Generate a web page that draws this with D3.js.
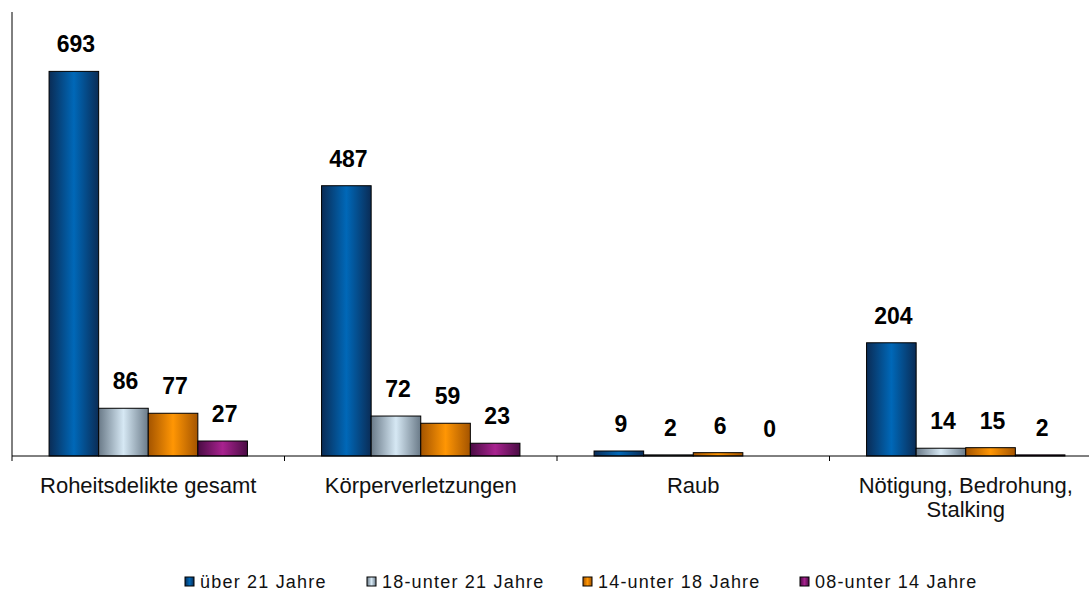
<!DOCTYPE html>
<html>
<head>
<meta charset="utf-8">
<script src="https://cdn.jsdelivr.net/npm/d3@7"></script>
<style>
  body { margin: 0; background: #fff; }
  text { font-family: "Liberation Sans", Arial, sans-serif; }
</style>
</head>
<body>
<div id="chart"></div>
<script>
// data
const categories = ["Roheitsdelikte gesamt", "Körperverletzungen", "Raub", "Nötigung, Bedrohung, Stalking"];
const seriesNames = ["über 21 Jahre", "18-unter 21 Jahre", "14-unter 18 Jahre", "08-unter 14 Jahre"];
const ueber21 = [693, 487, 9, 204];
const von18bis21 = [86, 72, 2, 14];
const von14bis18 = [77, 59, 6, 15];
const von08bis14 = [27, 23, 0, 2];
const seriesValues = [ueber21, von18bis21, von14bis18, von08bis14];

const width = 1089, height = 592;
const colors = [
  { edge: "#0a2c56", mid: "#0068b8" },
  { edge: "#6a7a88", mid: "#d6e8f4" },
  { edge: "#a45400", mid: "#ff9604" },
  { edge: "#4a0c44", mid: "#a8228f" }
];

const svg = d3.select("#chart").append("svg")
  .attr("width", width)
  .attr("height", height);

// cylinder-like gradients
const defs = svg.append("defs");
colors.forEach((c, i) => {
  const g = defs.append("linearGradient").attr("id", "grad" + i)
    .attr("x1", "0%").attr("x2", "100%").attr("y1", "0%").attr("y2", "0%");
  g.append("stop").attr("offset", "0%").attr("stop-color", c.edge);
  g.append("stop").attr("offset", "50%").attr("stop-color", c.mid);
  g.append("stop").attr("offset", "100%").attr("stop-color", c.edge);
});

const x0 = d3.scaleBand().domain(categories).range([12, 1102]).paddingInner(0).paddingOuter(0);
const inner = 0.136;
const x1 = d3.scaleBand().domain(d3.range(4))
  .range([x0.bandwidth() * inner, x0.bandwidth() * (1 - inner)]);
const y = d3.scaleLinear().domain([0, 800]).range([456, 12]);

// bars
const groups = svg.selectAll("g.cat")
  .data(categories)
  .join("g")
  .attr("class", "cat")
  .attr("transform", d => `translate(${x0(d)},0)`);

groups.selectAll("rect")
  .data((d, ci) => seriesValues.map((s, si) => ({ si, v: s[ci] })))
  .join("rect")
  .attr("x", d => x1(d.si))
  .attr("y", d => y(d.v))
  .attr("width", x1.bandwidth())
  .attr("height", d => y(0) - y(d.v))
  .attr("fill", d => `url(#grad${d.si})`)
  .attr("stroke", "#000")
  .attr("stroke-width", 1);

// value labels
groups.selectAll("text.val")
  .data((d, ci) => seriesValues.map((s, si) => ({ si, v: s[ci] })))
  .join("text")
  .attr("class", "val")
  .attr("x", d => x1(d.si) + x1.bandwidth() / 2 + 2)
  .attr("y", d => y(d.v) - 19)
  .attr("text-anchor", "middle")
  .attr("font-size", 23)
  .attr("font-weight", "bold")
  .text(d => d.v);

// axes
svg.append("line").attr("x1", 12).attr("x2", 12).attr("y1", 12).attr("y2", 456)
  .attr("stroke", "#000");
svg.append("line").attr("x1", 12).attr("x2", width).attr("y1", 456).attr("y2", 456)
  .attr("stroke", "#000");
const tickXs = categories.map(c => x0(c)).concat([x0(categories[3]) + x0.bandwidth()]);
svg.selectAll("line.tick")
  .data(tickXs)
  .join("line")
  .attr("class", "tick")
  .attr("x1", d => d).attr("x2", d => d)
  .attr("y1", 456).attr("y2", 461)
  .attr("stroke", "#000");

// category labels
const catLabels = svg.selectAll("text.cat")
  .data(categories)
  .join("text")
  .attr("class", "cat")
  .attr("text-anchor", "middle")
  .attr("font-size", 22)
  .attr("fill", "#111");
catLabels.each(function(d) {
  const t = d3.select(this);
  const cx = x0(d) + x0.bandwidth() / 2;
  const lines = d === "Nötigung, Bedrohung, Stalking" ? ["Nötigung, Bedrohung,", "Stalking"] : [d];
  lines.forEach((l, i) => {
    t.append("tspan").attr("x", cx).attr("y", 493 + i * 24).text(l);
  });
});

// legend
const legendX = [185, 367, 583, 800];
const legend = svg.selectAll("g.leg")
  .data(seriesNames)
  .join("g")
  .attr("class", "leg")
  .attr("transform", (d, i) => `translate(${legendX[i]},577)`);
legend.append("rect")
  .attr("width", 9).attr("height", 9)
  .attr("fill", (d, i) => `url(#grad${i})`)
  .attr("stroke", "#000");
legend.append("text")
  .attr("x", 15).attr("y", 11)
  .attr("font-size", 18)
  .attr("letter-spacing", 1.2)
  .attr("fill", "#111")
  .text(d => d);
</script>
</body>
</html>
